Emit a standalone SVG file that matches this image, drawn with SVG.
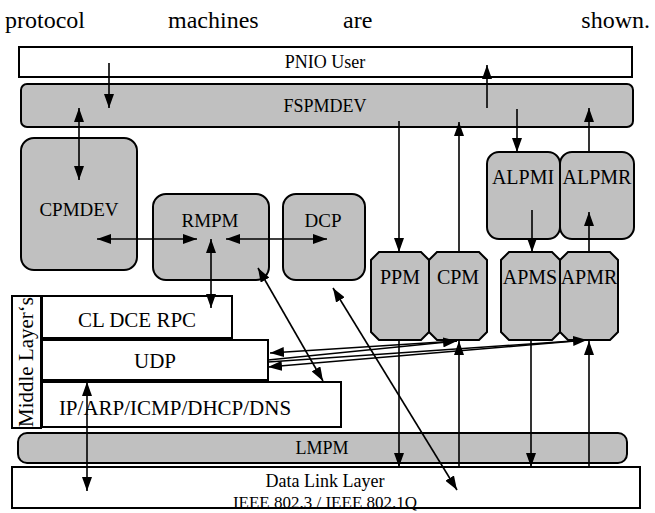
<svg xmlns="http://www.w3.org/2000/svg" width="655" height="513" viewBox="0 0 655 513" font-family="'Liberation Serif', 'DejaVu Serif', serif">
<defs>
<marker id="ah" markerUnits="userSpaceOnUse" markerWidth="14" markerHeight="10" refX="14" refY="5" orient="auto-start-reverse" viewBox="0 0 14 10">
<path d="M0,0 L14,5 L0,10 z" fill="#000"/>
</marker>
<style>
text{font-family:'Liberation Serif','DejaVu Serif',serif;fill:#000}
.h{font-size:24px}
.n{font-size:18px;text-anchor:middle}
.s{font-size:20px;text-anchor:middle}
.m{font-size:21px;text-anchor:middle}
.w{fill:#fff;stroke:#000;stroke-width:2}
.g{fill:#c0c0c0;stroke:#000;stroke-width:2}
.c{fill:none;stroke:#000;stroke-width:1.6}
.c path{marker-end:url(#ah)}
.c path.b{marker-start:url(#ah)}
</style>
</defs>
<g id="caption">
<text class="h" x="5" y="28">protocol</text>
<text class="h" x="168" y="28">machines</text>
<text class="h" x="343" y="28">are</text>
<text class="h" x="650" y="28" text-anchor="end">shown.</text>
</g>
<g id="pnio-user">
<rect class="w" x="19" y="47" width="613" height="30"/>
<text class="n" x="325" y="68">PNIO User</text>
</g>
<g id="fspmdev">
<rect class="g" x="21" y="84" width="612" height="43" rx="6"/>
<text class="n" x="325" y="112">FSPMDEV</text>
</g>
<g id="cpmdev">
<rect class="g" x="21" y="138" width="116" height="132" rx="13"/>
<text class="n" x="79" y="216" style="font-size:19px">CPMDEV</text>
</g>
<g id="rmpm">
<rect class="g" x="153" y="194" width="116" height="86" rx="13"/>
<text class="n" x="210" y="227" style="font-size:19px">RMPM</text>
</g>
<g id="dcp">
<rect class="g" x="283" y="194" width="82" height="86" rx="13"/>
<text class="n" x="323" y="227" style="font-size:19px">DCP</text>
</g>
<g id="alpmi">
<rect class="g" x="487" y="152" width="73" height="87" rx="12"/>
<text class="s" x="523" y="184">ALPMI</text>
</g>
<g id="alpmr">
<rect class="g" x="560" y="152" width="74" height="87" rx="12"/>
<text class="s" x="597" y="184">ALPMR</text>
</g>
<g id="ppm">
<path class="g" d="M379,252 H421 L429,260 V332 L421,340 H379 L371,332 V260 z"/>
<text class="s" x="400" y="284">PPM</text>
</g>
<g id="cpm">
<path class="g" d="M437,252 H479 L487,260 V332 L479,340 H437 L429,332 V260 z"/>
<text class="s" x="458" y="284">CPM</text>
</g>
<g id="apms">
<path class="g" d="M509,252 H552 L560,260 V332 L552,340 H509 L501,332 V260 z"/>
<text class="s" x="530" y="284">APMS</text>
</g>
<g id="apmr">
<path class="g" d="M568,252 H610 L618,260 V332 L610,340 H568 L560,332 V260 z"/>
<text class="s" x="589" y="284">APMR</text>
</g>
<g id="middle-layers">
<rect class="w" x="12" y="296" width="29" height="132"/>
<text class="m" transform="translate(33,362) rotate(-90)">Middle Layer‘s</text>
</g>
<g id="cl-dce-rpc">
<rect class="w" x="42" y="296" width="190" height="42"/>
<text class="m" x="137" y="327">CL DCE RPC</text>
</g>
<g id="udp">
<rect class="w" x="42" y="340" width="226" height="40"/>
<text class="m" x="155" y="368">UDP</text>
</g>
<g id="ip">
<rect class="w" x="42" y="382" width="299" height="45"/>
<text class="m" x="175" y="415">IP/ARP/ICMP/DHCP/DNS</text>
</g>
<g id="lmpm">
<rect class="g" x="18" y="433" width="609" height="30" rx="9"/>
<text class="n" x="322" y="454">LMPM</text>
</g>
<g id="data-link-layer">
<rect class="w" x="12" y="467" width="628" height="41"/>
<text class="n" x="325" y="487">Data Link Layer</text>
<text class="n" x="325" y="508" style="font-size:17px">IEEE 802.3 / IEEE 802.1Q</text>
</g>
<g id="connectors" class="c">
<path d="M109,63 V108"/>
<path d="M487,108 V65"/>
<path class="b" d="M79,108 V180"/>
<path d="M399,121 V252"/>
<path d="M459,252 V122"/>
<path d="M517,109 V152"/>
<path d="M589,152 V108"/>
<path d="M532,210 V252"/>
<path d="M589,252 V212"/>
<path class="b" d="M97,239 H197"/>
<path class="b" d="M226,239 H327"/>
<path class="b" d="M211,239 V308"/>
<path d="M399,340 V467"/>
<path d="M459,467 V341"/>
<path d="M531,340 V467"/>
<path d="M589,467 V341"/>
<path d="M457,341 L270,353"/>
<path d="M268,360 L457,341"/>
<path d="M587,340 L268,367"/>
<path d="M268,362 L587,340"/>
<path class="b" d="M258,268 L323,381"/>
<path class="b" d="M333,288 L457,490"/>
<path class="b" d="M87,382 V491"/>
</g>
</svg>
